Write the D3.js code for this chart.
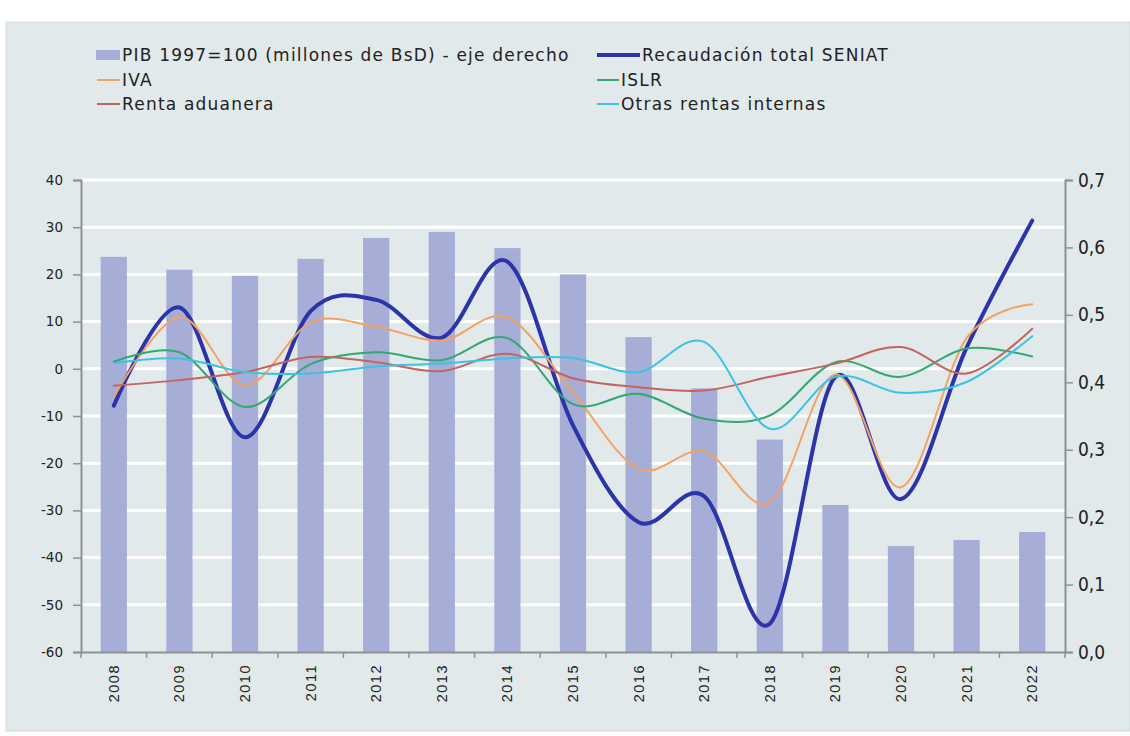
<!DOCTYPE html>
<meta charset="utf-8">
<script src="https://d3js.org/d3.v7.min.js"></script>
<style>
	body{
		margin:0;
		background:#fff;
	}
	svg text{
		fill:#222;
	}
</style>
<div id="chart"></div>
<script>

	// data
	var years = ["2008","2009","2010","2011","2012","2013","2014","2015","2016","2017","2018","2019","2020","2021","2022"]
	var pib = [0.586,0.567,0.558,0.583,0.614,0.623,0.599,0.560,0.467,0.391,0.315,0.218,0.157,0.166,0.178]
	var recaudacion = [-7.8,13,-14.5,12.2,14.6,6.6,22.7,-12,-32.5,-27,-54,-1.7,-27.6,4.5,31.4]
	var iva = [-6,11,-3.5,9.8,8.9,6,10.9,-5,-21.2,-17.5,-28.3,-1.2,-25.1,6.5,13.7]
	var islr = [1.5,3.5,-8.1,1,3.5,1.8,6.5,-7.5,-5.3,-10.6,-9.9,1.4,-1.7,4.3,2.6]
	var renta = [-3.6,-2.4,-0.7,2.5,1.4,-0.5,3.2,-2,-3.9,-4.6,-1.7,1.1,4.6,-1,8.5]
	var otras = [1.2,2.2,-0.7,-1,0.5,1.1,2.2,2.3,-0.7,5.7,-12.7,-1.7,-5.1,-2.8,6.9]

	var leftTicks = [-60,-50,-40,-30,-20,-10,0,10,20,30,40]
	var rightTicks = [0,0.1,0.2,0.3,0.4,0.5,0.6,0.7]

	var legendNames = ["PIB 1997=100 (millones de BsD) - eje derecho","Recaudación total SENIAT","IVA","ISLR","Renta aduanera","Otras rentas internas"]

	var w = 1130
	var h = 736
	var pLeft = 81, pRight = 1065, pTop = 180, pBottom = 652

	var barColor = "#a6add7"
	var colors = {
		recaudacion:"#2b34a8",
		iva:"#f4a262",
		islr:"#33a872",
		renta:"#c2655f",
		otras:"#3cc3e4"
	}

	var svg = d3.select("#chart").append("svg").attr("width",w).attr("height",h)

	// panel
	svg.append("rect").attr("x",6).attr("y",22).attr("width",1124).attr("height",709)
		.attr("fill","#e1e9ea").attr("stroke","#d3dcdd")

	var xScale = d3.scaleBand().domain(years).range([pLeft,pRight])
	var yScale = d3.scaleLinear().domain([-60,40]).range([pBottom,pTop])
	var y2Scale = d3.scaleLinear().domain([0,0.7]).range([pBottom,pTop])

	// white gridlines
	svg.selectAll(".grid")
		.data(leftTicks.filter(function(d){return d>-60}))
		.enter()
		.append("line")
		.attr("x1",pLeft).attr("x2",pRight)
		.attr("y1",function(d){return yScale(d)})
		.attr("y2",function(d){return yScale(d)})
		.attr("stroke","#fff").attr("stroke-width",3)

	// bars
	var bw = xScale.bandwidth()*0.4
	svg.selectAll(".bar")
		.data(years)
		.enter()
		.append("rect")
		.attr("x",function(d){return xScale(d)+xScale.bandwidth()/2-bw/2})
		.attr("width",bw)
		.attr("y",function(d,i){return y2Scale(pib[i])})
		.attr("height",function(d,i){return y2Scale(0)-y2Scale(pib[i])})
		.attr("fill",barColor)

	// lines
	var line = d3.line()
		.x(function(d,i){return xScale(years[i])+xScale.bandwidth()/2})
		.y(function(d){return yScale(d)})
		.curve(d3.curveCardinal.tension(0))

	var series = [
		{data:recaudacion,color:colors.recaudacion,width:4},
		{data:iva,color:colors.iva,width:2},
		{data:islr,color:colors.islr,width:2},
		{data:renta,color:colors.renta,width:2},
		{data:otras,color:colors.otras,width:2}
	]
	for(var s in series){
		svg.append("path").attr("d",line(series[s].data))
			.attr("fill","none")
			.attr("stroke",series[s].color)
			.attr("stroke-width",series[s].width)
			.attr("stroke-linecap","round")
	}

	// axes
	var axisColor = "#8e9294"
	var yAxis = d3.axisLeft(yScale).tickValues(leftTicks).tickSize(8).tickPadding(10)
		.tickFormat(function(d){return String(d)})
	var gl = svg.append("g").attr("transform","translate("+pLeft+",0)").call(yAxis)
	gl.selectAll("text").style("font-family","'DejaVu Sans', Verdana, sans-serif").style("font-size","13.5px").attr("fill","#222")

	var y2Axis = d3.axisRight(y2Scale).tickValues(rightTicks).tickSize(8).tickPadding(5)
		.tickFormat(function(d){return d3.format(".1f")(d).replace(".",",")})
	var gr = svg.append("g").attr("transform","translate("+pRight+",0)").call(y2Axis)
	gr.selectAll("text").style("font-family","'Liberation Sans Narrow', 'DejaVu Sans Condensed', sans-serif").style("font-size","19px").attr("fill","#222")

	var xAxis = d3.axisBottom(xScale).tickSize(0).tickPadding(0)
	var gx = svg.append("g").attr("transform","translate(0,"+pBottom+")").call(xAxis)
	gx.selectAll("text")
		.style("font-family","'Liberation Sans', Arial, sans-serif").style("font-size","14.5px")
		.style("letter-spacing","1.5px")
		.attr("fill","#222")
		.attr("text-anchor","end")
		.attr("transform","rotate(-90)")
		.attr("x",-12).attr("y",0).attr("dy","0.35em")
	// ticks between categories
	gx.selectAll(".sep")
		.data(years.concat(["end"]))
		.enter()
		.append("line")
		.attr("x1",function(d,i){return pLeft+i*xScale.step()})
		.attr("x2",function(d,i){return pLeft+i*xScale.step()})
		.attr("y1",0).attr("y2",6)
		.attr("stroke",axisColor).attr("stroke-width",1.5)

	svg.selectAll(".domain").attr("stroke",axisColor).attr("stroke-width",2)
	svg.selectAll(".tick line").attr("stroke",axisColor).attr("stroke-width",1.5)

	// legend
	var lg = svg.append("g").style("font-family","'DejaVu Sans', Verdana, sans-serif").style("font-size","17px")
		.style("letter-spacing","1.2px")
	var rows = [55,80,104]
	var legendItems = [
		{name:legendNames[0],type:"bar",color:barColor,sx:96,ex:120,tx:122,row:0},
		{name:legendNames[1],type:"line",color:colors.recaudacion,width:4,sx:597,ex:640,tx:642,row:0},
		{name:legendNames[2],type:"line",color:colors.iva,width:2,sx:97,ex:120,tx:122,row:1},
		{name:legendNames[3],type:"line",color:colors.islr,width:2,sx:597,ex:619,tx:621,row:1},
		{name:legendNames[4],type:"line",color:colors.renta,width:2,sx:97,ex:120,tx:122,row:2},
		{name:legendNames[5],type:"line",color:colors.otras,width:2,sx:597,ex:619,tx:621,row:2}
	]
	legendItems.forEach(function(d){
		var yy = rows[d.row]
		if(d.type=="bar"){
			lg.append("rect").attr("x",d.sx).attr("y",yy-5).attr("width",d.ex-d.sx).attr("height",10).attr("fill",d.color)
		}else{
			lg.append("line").attr("x1",d.sx).attr("x2",d.ex).attr("y1",yy).attr("y2",yy)
				.attr("stroke",d.color).attr("stroke-width",d.width)
		}
		lg.append("text").attr("x",d.tx).attr("y",yy).attr("dy","0.35em").text(d.name)
	})

</script>
